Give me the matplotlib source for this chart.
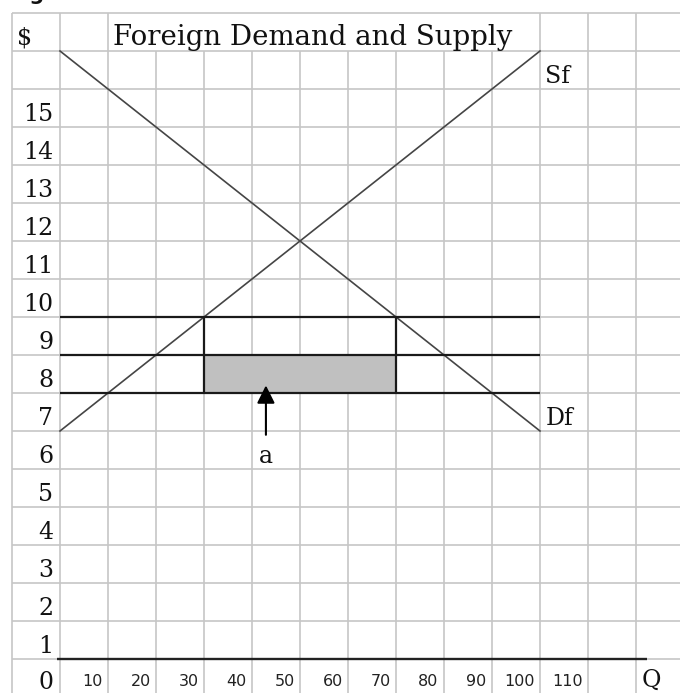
import numpy as np
import matplotlib
matplotlib.use('Agg')
import matplotlib.pyplot as plt
from matplotlib.patches import Rectangle

# chart data (Q on x, $ on y)
sd_q = [0, 100]
supply_p = [7, 17]
demand_p = [17, 7]
price_levels = [10, 9, 8]          # horizontal lines drawn from Q=0 to Q=100
line_q_end = 100
bracket_q = [30, 70]               # vertical bracket lines
bracket_top, bracket_bot = 10, 8
area_q = [30, 70]                  # shaded area "a"
area_p = [8, 9]
arrow_q = 42.9
arrow_from, arrow_to = 6.9, 8.2
axis_p = 1
axis_q = [-0.6, 122.3]

y_labels = list(range(15, -1, -1))
x_labels = list(range(10, 120, 10))
title = "Foreign Demand and Supply"

# spreadsheet grid
grid_q = np.arange(-10, 140, 10)
grid_p = np.arange(0, 19)
merged = (grid_q > 10) & (grid_q < 100)   # title cell spans these columns

fig = plt.figure(figsize=(6.8, 6.93), dpi=100)
ax = fig.add_axes([0, 0, 1, 1])
# 1 Q unit = 4.8 px, 1 $ unit = 38 px
ax.set_xlim(-12.5, -12.5 + 680 / 4.8)
ax.set_ylim((697 - 693) / 38, 697 / 38)
ax.axis('off')

grid_kw = dict(color='#c6c6c6', lw=1.2, zorder=1)
ax.vlines(grid_q, 0, np.where(merged, 17, 18), **grid_kw)
ax.hlines(grid_p, -10, 130, **grid_kw)

ax.add_patch(Rectangle((area_q[0], area_p[0]), area_q[1] - area_q[0],
                       area_p[1] - area_p[0], facecolor='#c0c0c0',
                       edgecolor='none', zorder=2))

ax.plot(sd_q, supply_p, color='#454545', lw=1.2, zorder=3)
ax.plot(sd_q, demand_p, color='#454545', lw=1.2, zorder=3)

ax.hlines(price_levels, 0, line_q_end, color='#1a1a1a', lw=1.6, zorder=4)
ax.vlines(bracket_q, bracket_bot, bracket_top, color='#1a1a1a', lw=1.6, zorder=4)
ax.hlines(axis_p, axis_q[0], axis_q[1], color='#222222', lw=1.7, zorder=4)

ax.annotate('', xy=(arrow_q, arrow_to), xytext=(arrow_q, arrow_from),
            arrowprops=dict(arrowstyle='-|>,head_length=0.9,head_width=0.45',
                            mutation_scale=12, color='black', lw=1.5,
                            shrinkA=0, shrinkB=0), zorder=5)

serif = dict(family='DejaVu Serif', color='#111111')
off = 6 / 38   # text baseline sits 6 px above the cell's bottom line

for v in y_labels:
    lift = 2 / 38 if v == 0 else 0
    ax.text(-1.4, v + off + lift, str(v), ha='right', va='baseline', fontsize=17, **serif)
for q in x_labels:
    ax.text(q - 1.1, 11 / 38, str(q), ha='right', va='baseline',
            fontsize=11.5, family='DejaVu Sans', color='#222222')

ax.text(-10 + 1.1, 17 + off, '$', ha='left', va='baseline', fontsize=17, **serif)
ax.text(10 + 1.1, 17 + off, title, ha='left', va='baseline', fontsize=19.9, **serif)
ax.text(100 + 1.1, 16 + off, 'Sf', ha='left', va='baseline', fontsize=17, **serif)
ax.text(100 + 1.1, 7 + off, 'Df', ha='left', va='baseline', fontsize=17, **serif)
ax.text(arrow_q, 6 + off, 'a', ha='center', va='baseline', fontsize=17, **serif)
ax.text(120 + 1.1, 10 / 38, 'Q', ha='left', va='baseline', fontsize=17, **serif)

# cropped heading above the chart, only the descender shows
fig.text(0.012, 1.0, 'Figure', ha='left', va='baseline', fontsize=15,
         fontweight='bold', color='#111111')

fig.savefig('out.png', dpi=100)
